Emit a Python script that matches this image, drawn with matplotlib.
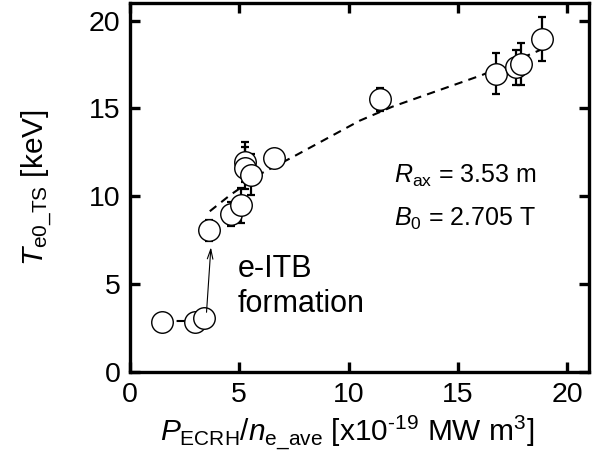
import matplotlib
matplotlib.use("Agg")
import matplotlib.pyplot as plt

plt.rcParams['font.family'] = ['Liberation Sans', 'DejaVu Sans']
plt.rcParams['mathtext.fontset'] = 'custom'
plt.rcParams['mathtext.rm'] = 'Liberation Sans'
plt.rcParams['mathtext.it'] = 'Liberation Sans:italic'
plt.rcParams['mathtext.bf'] = 'Liberation Sans:bold'

# Data
p_over_n = [1.48, 2.97, 3.38, 3.61, 4.64, 5.10, 5.25, 5.28, 5.55, 6.59, 11.45, 16.74, 17.66, 17.88, 18.84]
te0 = [2.86, 2.86, 3.05, 8.08, 9.00, 9.49, 11.95, 11.63, 11.23, 12.20, 15.52, 16.97, 17.35, 17.54, 18.96]
te0_err = [0.1, 0.1, 0.1, 0.6, 0.7, 1.0, 1.15, 1.2, 1.18, 0.3, 0.66, 1.17, 1.0, 1.2, 1.27]

fit_x = [3.65, 4.57, 6.0, 7.45, 10.5, 12.0, 16.1, 18.9]
fit_y = [9.15, 10.06, 11.3, 12.24, 14.3, 15.1, 16.9, 18.4]

low_x = [1.48, 3.38]
low_y = [2.88, 2.88]

xticks = [0, 5, 10, 15, 20]
yticks = [0, 5, 10, 15, 20]

fig = plt.figure(figsize=(6.0, 4.7), dpi=100)
ax = fig.add_axes([0.2167, 0.2085, 0.765, 0.785])

ax.plot(fit_x, fit_y, color='black', lw=1.5, dashes=(4, 3), zorder=1)
ax.plot(low_x, low_y, color='black', lw=1.5, dashes=(4, 3), zorder=1)

ax.errorbar(p_over_n, te0, yerr=te0_err, fmt='none', ecolor='black',
            elinewidth=1.6, capsize=2.8, capthick=1.6, zorder=2)
ax.plot(p_over_n, te0, 'o', ms=15.5, mfc='white', mec='black', mew=1.0,
        linestyle='none', zorder=3)

ax.annotate('', xy=(3.7, 7.1), xytext=(3.5, 3.4),
            arrowprops=dict(arrowstyle='->,head_length=0.7,head_width=0.2',
                            color='black', lw=0.8, shrinkA=0, shrinkB=0), zorder=4)

ax.text(4.93, 5.42, 'e-ITB', fontsize=22, ha='left', va='baseline')
ax.text(4.93, 3.43, 'formation', fontsize=22, ha='left', va='baseline')

ax.text(12.1, 10.75, r'$\mathit{R}_{\rm ax}$ = 3.53 m', fontsize=18, ha='left', va='baseline')
ax.text(12.1, 8.35, r'$\mathit{B}_{0}$ = 2.705 T', fontsize=18, ha='left', va='baseline')

ax.set_xlim(0, 21)
ax.set_ylim(0, 21)
ax.set_xticks(xticks)
ax.set_yticks(yticks)
ax.set_xticklabels([str(v) for v in xticks])
ax.set_yticklabels([str(v) for v in yticks])

ax.tick_params(direction='in', length=7, width=2.4, labelsize=20.5,
               top=True, right=True, pad=7)
for s in ax.spines.values():
    s.set_linewidth(2.4)

ax.set_xlabel(r'$\mathit{P}_{\rm ECRH}/\mathit{n}_{\rm e\_ave}$ [x10$^{\text{-19}}$ MW m$^{3}$]',
              fontsize=21.5, labelpad=4, x=0.472)
ax.set_ylabel(r'$\mathit{T}_{\rm e0\_TS}$ [keV]', fontsize=21.5, labelpad=24)

fig.savefig('out.png', dpi=100)
